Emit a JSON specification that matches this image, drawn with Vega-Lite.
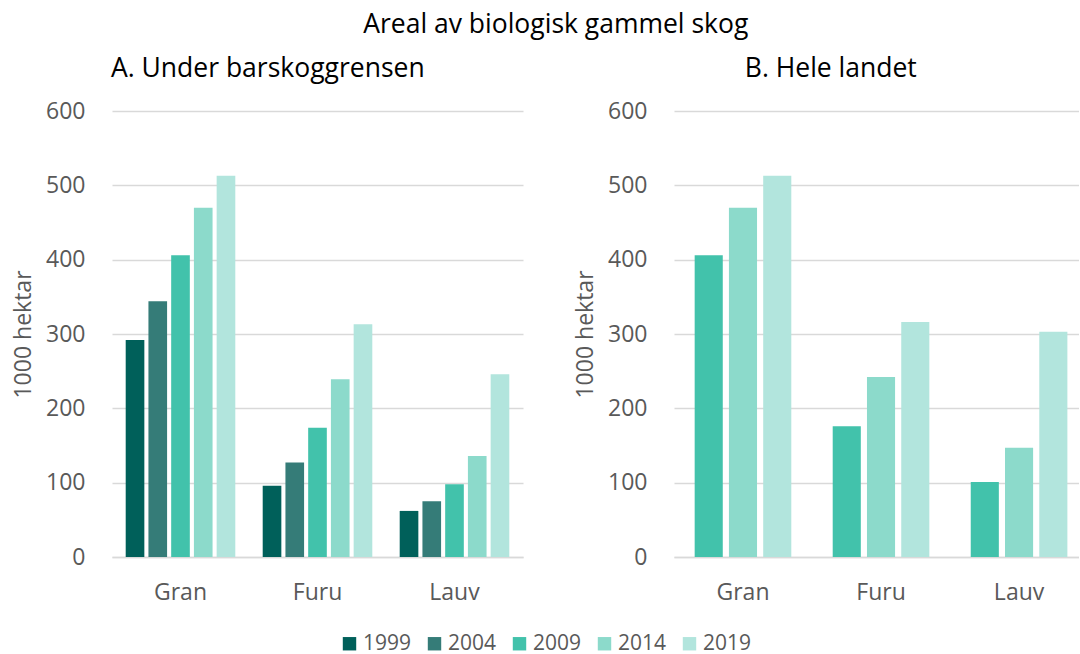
{
  "$schema": "https://vega.github.io/schema/vega-lite/v6.json",
  "padding": {"left": 12, "top": 12, "right": 0, "bottom": 0},
  "background": "white",
  "title": {"text": "Areal av biologisk gammel skog", "anchor": "middle", "fontSize": 26.5, "font": "Open Sans", "fontWeight": "normal", "color": "#000000", "offset": 17, "dx": 10},
  "data": {"values": [
    {"panel": "A", "art": "Gran", "year": "1999", "value": 292},
    {"panel": "A", "art": "Gran", "year": "2004", "value": 344},
    {"panel": "A", "art": "Gran", "year": "2009", "value": 406},
    {"panel": "A", "art": "Gran", "year": "2014", "value": 470},
    {"panel": "A", "art": "Gran", "year": "2019", "value": 513},
    {"panel": "A", "art": "Furu", "year": "1999", "value": 96},
    {"panel": "A", "art": "Furu", "year": "2004", "value": 127},
    {"panel": "A", "art": "Furu", "year": "2009", "value": 174},
    {"panel": "A", "art": "Furu", "year": "2014", "value": 239},
    {"panel": "A", "art": "Furu", "year": "2019", "value": 313},
    {"panel": "A", "art": "Lauv", "year": "1999", "value": 62},
    {"panel": "A", "art": "Lauv", "year": "2004", "value": 75},
    {"panel": "A", "art": "Lauv", "year": "2009", "value": 98},
    {"panel": "A", "art": "Lauv", "year": "2014", "value": 136},
    {"panel": "A", "art": "Lauv", "year": "2019", "value": 246},
    {"panel": "B", "art": "Gran", "year": "2009", "value": 406},
    {"panel": "B", "art": "Gran", "year": "2014", "value": 470},
    {"panel": "B", "art": "Gran", "year": "2019", "value": 513},
    {"panel": "B", "art": "Furu", "year": "2009", "value": 176},
    {"panel": "B", "art": "Furu", "year": "2014", "value": 242},
    {"panel": "B", "art": "Furu", "year": "2019", "value": 316},
    {"panel": "B", "art": "Lauv", "year": "2009", "value": 101},
    {"panel": "B", "art": "Lauv", "year": "2014", "value": 147},
    {"panel": "B", "art": "Lauv", "year": "2019", "value": 303}
  ]},
  "spacing": 51,
  "resolve": {"scale": {"x": "independent", "xOffset": "independent", "y": "independent", "color": "shared"}},
  "hconcat": [
    {
      "width": 411,
      "height": 446,
      "title": {"text": "A. Under barskoggrensen", "anchor": "middle", "frame": "bounds", "fontSize": 26.5, "font": "Open Sans", "fontWeight": "normal", "color": "#000000", "offset": 18},
      "transform": [{"filter": "datum.panel === 'A'"}],
      "mark": {"type": "bar"},
      "encoding": {
        "x": {"field": "art", "type": "nominal", "sort": ["Gran", "Furu", "Lauv"], "scale": {"paddingInner": 0.2, "paddingOuter": 0.1}, "axis": {"title": null, "labelAngle": 0, "ticks": false, "domain": true, "domainColor": "#d9d9d9", "domainWidth": 1.5, "labelFontSize": 23, "labelFont": "Open Sans", "labelColor": "#595959", "labelPadding": 24}},
        "xOffset": {"field": "year", "type": "nominal", "sort": ["1999", "2004", "2009", "2014", "2019"], "scale": {"paddingInner": 0.18, "paddingOuter": 0}},
        "y": {"field": "value", "type": "quantitative", "scale": {"domain": [0, 600]}, "axis": {"title": "1000 hektar", "values": [0, 100, 200, 300, 400, 500, 600], "ticks": false, "domain": false, "gridColor": "#d9d9d9", "gridWidth": 1.5, "labelFontSize": 23, "labelFont": "Open Sans", "labelColor": "#595959", "labelPadding": 27, "titleFontSize": 23, "titleFont": "Open Sans", "titleFontWeight": "normal", "titleColor": "#595959", "titlePadding": 10}},
        "color": {"field": "year", "type": "nominal", "scale": {"domain": ["1999", "2004", "2009", "2014", "2019"], "range": ["#00605a", "#357c78", "#42c2ab", "#8cdacb", "#b2e5dd"]}, "legend": {"title": null, "orient": "bottom", "direction": "horizontal", "symbolType": "square", "symbolSize": 180, "symbolStrokeWidth": 0, "labelFontSize": 21, "labelFont": "Open Sans", "labelColor": "#595959", "labelOffset": 3, "columnPadding": 12, "offset": 29, "padding": 0}}
      }
    },
    {
      "width": 405,
      "height": 446,
      "title": {"text": "B. Hele landet", "anchor": "middle", "frame": "bounds", "fontSize": 26.5, "font": "Open Sans", "fontWeight": "normal", "color": "#000000", "offset": 18, "dx": 4},
      "transform": [{"filter": "datum.panel === 'B'"}],
      "mark": {"type": "bar"},
      "encoding": {
        "x": {"field": "art", "type": "nominal", "sort": ["Gran", "Furu", "Lauv"], "scale": {"paddingInner": 0.3, "paddingOuter": 0.117, "align": 0.64}, "axis": {"title": null, "labelAngle": 0, "ticks": false, "domain": true, "domainColor": "#d9d9d9", "domainWidth": 1.5, "labelFontSize": 23, "labelFont": "Open Sans", "labelColor": "#595959", "labelPadding": 24}},
        "xOffset": {"field": "year", "type": "nominal", "sort": ["2009", "2014", "2019"], "scale": {"paddingInner": 0.18, "paddingOuter": 0}},
        "y": {"field": "value", "type": "quantitative", "scale": {"domain": [0, 600]}, "axis": {"title": "1000 hektar", "values": [0, 100, 200, 300, 400, 500, 600], "ticks": false, "domain": false, "gridColor": "#d9d9d9", "gridWidth": 1.5, "labelFontSize": 23, "labelFont": "Open Sans", "labelColor": "#595959", "labelPadding": 27, "titleFontSize": 23, "titleFont": "Open Sans", "titleFontWeight": "normal", "titleColor": "#595959", "titlePadding": 10}},
        "color": {"field": "year", "type": "nominal", "scale": {"domain": ["1999", "2004", "2009", "2014", "2019"], "range": ["#00605a", "#357c78", "#42c2ab", "#8cdacb", "#b2e5dd"]}}
      }
    }
  ],
  "config": {"view": {"stroke": null}, "font": "Open Sans", "legend": {"layout": {"bottom": {"anchor": "middle"}}}}
}
